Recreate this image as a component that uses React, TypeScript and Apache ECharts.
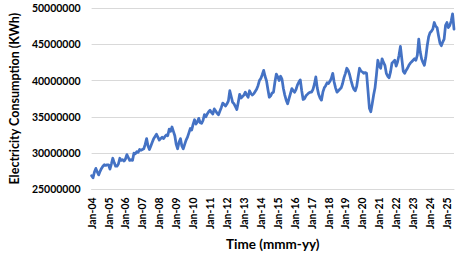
import React, { useEffect, useRef } from "react";
import * as echarts from "echarts";

const monthNames = ["Jan", "Feb", "Mar", "Apr", "May", "Jun", "Jul", "Aug", "Sep", "Oct", "Nov", "Dec"];
const startYear = 2004;

const y2004 = [26.9e6, 26.6e6, 27.4e6, 27.9e6, 27.4e6, 27.0e6, 27.5e6, 27.9e6, 28.2e6, 28.4e6, 28.3e6, 28.4e6];
const y2005 = [28.4e6, 27.8e6, 28.5e6, 29.3e6, 28.7e6, 28.2e6, 28.2e6, 28.5e6, 29.3e6, 29.0e6, 29.1e6, 28.9e6];
const y2006 = [29.2e6, 29.8e6, 29.4e6, 29.0e6, 29.1e6, 29.0e6, 30.0e6, 29.9e6, 30.2e6, 30.1e6, 30.5e6, 30.4e6];
const y2007 = [30.5e6, 30.6e6, 31.2e6, 32.0e6, 31.0e6, 30.5e6, 31.0e6, 31.5e6, 32.0e6, 32.3e6, 32.6e6, 32.2e6];
const y2008 = [31.8e6, 32.0e6, 32.2e6, 32.0e6, 32.3e6, 32.5e6, 32.4e6, 33.3e6, 33.0e6, 33.6e6, 33.0e6, 32.4e6];
const y2009 = [31.2e6, 30.6e6, 31.5e6, 32.0e6, 31.0e6, 30.6e6, 31.2e6, 31.8e6, 32.2e6, 32.8e6, 33.4e6, 33.2e6];
const y2010 = [34.0e6, 34.6e6, 34.0e6, 34.3e6, 34.8e6, 34.2e6, 34.1e6, 34.5e6, 35.3e6, 35.0e6, 35.4e6, 35.7e6];
const y2011 = [35.9e6, 35.6e6, 35.4e6, 36.1e6, 35.8e6, 35.5e6, 35.3e6, 35.8e6, 36.3e6, 36.9e6, 36.7e6, 36.5e6];
const y2012 = [36.8e6, 37.2e6, 38.6e6, 37.8e6, 37.0e6, 36.8e6, 36.4e6, 36.0e6, 37.0e6, 38.1e6, 37.6e6, 37.8e6];
const y2013 = [38.0e6, 38.4e6, 38.0e6, 37.7e6, 38.6e6, 38.2e6, 38.0e6, 38.2e6, 38.5e6, 38.8e6, 39.3e6, 40.0e6];
const y2014 = [40.3e6, 40.8e6, 41.4e6, 40.6e6, 40.0e6, 38.8e6, 37.7e6, 37.9e6, 38.3e6, 38.4e6, 39.8e6, 40.9e6];
const y2015 = [40.5e6, 40.0e6, 40.6e6, 40.2e6, 38.9e6, 38.0e6, 37.3e6, 36.8e6, 37.5e6, 38.2e6, 38.9e6, 38.6e6];
const y2016 = [38.4e6, 38.8e6, 39.4e6, 39.8e6, 40.1e6, 38.6e6, 37.4e6, 37.5e6, 37.9e6, 38.1e6, 38.3e6, 38.4e6];
const y2017 = [38.4e6, 38.8e6, 39.5e6, 40.5e6, 39.0e6, 38.1e6, 37.6e6, 37.3e6, 38.4e6, 39.0e6, 39.3e6, 39.7e6];
const y2018 = [39.6e6, 39.9e6, 40.3e6, 41.0e6, 39.8e6, 39.0e6, 38.4e6, 38.6e6, 38.8e6, 39.0e6, 39.6e6, 40.4e6];
const y2019 = [41.0e6, 41.7e6, 41.4e6, 40.8e6, 40.0e6, 39.3e6, 38.8e6, 38.6e6, 39.2e6, 40.5e6, 41.7e6, 41.3e6];
const y2020 = [41.2e6, 41.0e6, 41.1e6, 41.0e6, 38.6e6, 36.2e6, 35.7e6, 36.8e6, 38.0e6, 39.0e6, 40.8e6, 42.8e6];
const y2021 = [42.0e6, 41.7e6, 43.0e6, 42.5e6, 42.1e6, 41.0e6, 40.6e6, 40.4e6, 41.2e6, 42.4e6, 42.6e6, 42.8e6];
const y2022 = [42.0e6, 42.6e6, 43.5e6, 44.7e6, 43.0e6, 41.3e6, 41.0e6, 41.4e6, 41.7e6, 42.1e6, 42.4e6, 42.6e6];
const y2023 = [42.8e6, 43.0e6, 42.8e6, 43.5e6, 45.7e6, 44.0e6, 43.0e6, 42.5e6, 42.1e6, 43.2e6, 44.8e6, 46.0e6];
const y2024 = [46.6e6, 46.8e6, 47.1e6, 48.0e6, 47.5e6, 47.3e6, 46.2e6, 45.2e6, 44.8e6, 45.3e6, 45.7e6, 47.6e6];
const y2025 = [48.0e6, 47.3e6, 47.6e6, 48.2e6, 49.2e6, 47.1e6];

const yearlySeries = [
  y2004, y2005, y2006, y2007, y2008, y2009, y2010, y2011, y2012, y2013, y2014,
  y2015, y2016, y2017, y2018, y2019, y2020, y2021, y2022, y2023, y2024, y2025,
];

const consumption: number[] = [];
const categories: string[] = [];
yearlySeries.forEach((vals, yi) => {
  const yy = String((startYear + yi) % 100).padStart(2, "0");
  vals.forEach((v, mi) => {
    consumption.push(v);
    categories.push(`${monthNames[mi]}-${yy}`);
  });
});

const yTicks = { min: 25000000, max: 50000000, interval: 5000000 };

const FONT = "Lato, 'Open Sans', sans-serif";

export default function App() {
  const ref = useRef<HTMLDivElement>(null);
  useEffect(() => {
    if (!ref.current) return;
    const chart = echarts.init(ref.current, undefined, { renderer: "svg" });
    chart.setOption({
      animation: false,
      backgroundColor: "#ffffff",
      textStyle: { fontFamily: FONT },
      grid: { left: 80, right: 5, top: 8, bottom: 61, containLabel: false },
      xAxis: {
        type: "category",
        data: categories,
        boundaryGap: false,
        name: "Time (mmm-yy)",
        nameLocation: "middle",
        nameGap: 42,
        nameTextStyle: { fontFamily: FONT, fontWeight: "bold", fontSize: 13.5, color: "#000" },
        axisLine: { show: true, lineStyle: { color: "#d9d9d9", width: 1 } },
        axisTick: { show: false },
        splitLine: { show: false },
        axisLabel: {
          rotate: 90,
          margin: 8,
          interval: (idx: number) => idx % 12 === 0,
          fontFamily: FONT,
          fontWeight: "bold",
          fontSize: 10.5,
          color: "#000",
        },
      },
      yAxis: {
        type: "value",
        min: yTicks.min,
        max: yTicks.max,
        interval: yTicks.interval,
        name: "Electricity Consumption (KWh)",
        nameLocation: "middle",
        nameGap: 61,
        nameTextStyle: { fontFamily: FONT, fontWeight: "bold", fontSize: 12.5, color: "#000" },
        axisLine: { show: false },
        axisTick: { show: false },
        splitLine: { show: true, lineStyle: { color: "#d9d9d9", width: 1 } },
        axisLabel: {
          margin: 11,
          fontFamily: FONT,
          fontWeight: "bold",
          fontSize: 10.5,
          color: "#000",
          formatter: (v: number) => String(v),
        },
      },
      series: [
        {
          type: "line",
          data: consumption,
          showSymbol: false,
          symbol: "none",
          lineStyle: { color: "#4472C4", width: 2.75, join: "round", cap: "round" },
        },
      ],
    });
    return () => chart.dispose();
  }, []);
  return <div ref={ref} style={{ width: 459, height: 256, position: "absolute", left: 0, top: 0 }} />;
}
